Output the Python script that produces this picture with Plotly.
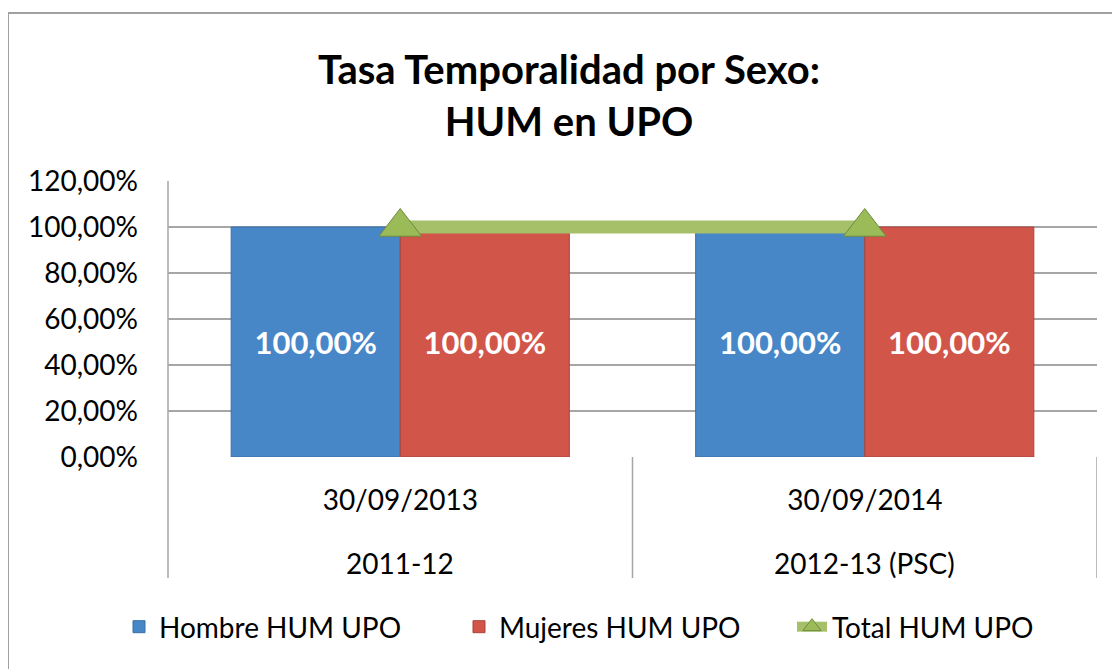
import plotly.graph_objects as go

# ---- data ----
categories = ["30/09/2013", "30/09/2014"]
periods = ["2011-12", "2012-13 (PSC)"]
hombre = [1.0, 1.0]
mujeres = [1.0, 1.0]
total = [1.0, 1.0]
series_names = ["Hombre HUM UPO", "Mujeres HUM UPO", "Total HUM UPO"]
y_ticks = [0, 0.2, 0.4, 0.6, 0.8, 1.0, 1.2]
y_ticklabels = ["0,00%", "20,00%", "40,00%", "60,00%", "80,00%", "100,00%", "120,00%"]
title_text = "Tasa Temporalidad por Sexo:<br>HUM en UPO"


def pct(v):
    return f"{v*100:.2f}%".replace(".", ",")


FONT = "Lato"
OFF = 8  # page body margin
W, H = 1112, 661
# target page-pixel positions of the plot area
PL, PR, PT, PB = 168, 1097, 181, 457
L, T = PL - OFF, PT - OFF
R = W - (PR - OFF)
B = H - (PB - OFF)
pw, ph = PR - PL, PB - PT


def px_x(px):  # page px -> paper x
    return (px - PL) / pw


def px_y(py):  # page px -> paper y
    return (PB - py) / ph


fig = go.Figure()
fig.add_trace(go.Bar(
    x=categories, y=hombre, name=series_names[0], legend="legend",
    marker=dict(color="#4787c8", line=dict(color="#3a6ea5", width=1)),
    text=[pct(v) for v in hombre], textposition="inside", insidetextanchor="middle",
    textangle=0, textfont=dict(family=FONT, size=31, color="white", weight="bold"),
))
fig.add_trace(go.Bar(
    x=categories, y=mujeres, name=series_names[1], legend="legend2",
    marker=dict(color="#d2554a", line=dict(color="#a9443b", width=1)),
    text=[pct(v) for v in mujeres], textposition="inside", insidetextanchor="middle",
    textangle=0, textfont=dict(family=FONT, size=31, color="white", weight="bold"),
))
fig.add_trace(go.Scatter(
    x=categories, y=total, name=series_names[2], mode="lines+markers", legend="legend3",
    line=dict(color="#a6c06a", width=13),
    marker=dict(symbol="triangle-up", size=37, color="#9bbb59",
                line=dict(color="#6e8b3d", width=1)),
))

shapes = []
# outer chart border
shapes.append(dict(type="rect", xref="paper", yref="paper",
                   x0=px_x(8), x1=px_x(1160), y0=px_y(700), y1=px_y(13),
                   line=dict(color="#a0a0a0", width=2), layer="below"))
# left axis line through category area
shapes.append(dict(type="line", xref="paper", yref="paper",
                   x0=0, x1=0, y0=px_y(578), y1=1,
                   line=dict(color="#a6a6a6", width=1.5)))
# category dividers
for xv in [0.5, 1.5]:
    shapes.append(dict(type="line", xref="x", yref="paper",
                       x0=xv, x1=xv, y0=px_y(578), y1=0,
                       line=dict(color="#a6a6a6", width=1.5)))

annotations = []
for c, p in zip(categories, periods):
    annotations.append(dict(x=c, xref="x", y=px_y(563), yref="paper",
                            text=p, showarrow=False, yanchor="middle",
                            font=dict(family=FONT, size=28, color="black")))


def leg(page_x):
    return dict(orientation="h", x=px_x(page_x), xanchor="left", y=px_y(627),
                yanchor="middle", font=dict(family=FONT, size=28, color="black"),
                bgcolor="rgba(0,0,0,0)")


fig.update_layout(
    width=W, height=H,
    margin=dict(l=L, r=R, t=T, b=B),
    paper_bgcolor="white", plot_bgcolor="white",
    barmode="group", bargap=0.272, bargroupgap=0,
    title=dict(text=title_text, x=(569 - OFF) / W, xanchor="center", xref="container",
               y=1 - (84 - OFF) / H, yref="container", yanchor="middle",
               font=dict(family=FONT, size=40, color="black", weight="bold")),
    font=dict(family=FONT, color="black"),
    showlegend=True,
    legend=leg(119), legend2=leg(459), legend3=leg(792),
    shapes=shapes, annotations=annotations,
)
fig.update_xaxes(type="category", tickvals=categories, ticktext=categories,
                 tickfont=dict(family=FONT, size=28, color="black"),
                 showgrid=False, showline=False, ticks="", ticklabelstandoff=24,
                 range=[-0.5, 1.5])
fig.update_yaxes(range=[0, 1.2], tickvals=y_ticks, ticktext=y_ticklabels,
                 tickfont=dict(family=FONT, size=28, color="black"),
                 showgrid=True, gridcolor="#a6a6a6", gridwidth=1.5,
                 zeroline=False, showline=False, ticks="", ticklabelstandoff=29)

fig.write_html("out.html")
